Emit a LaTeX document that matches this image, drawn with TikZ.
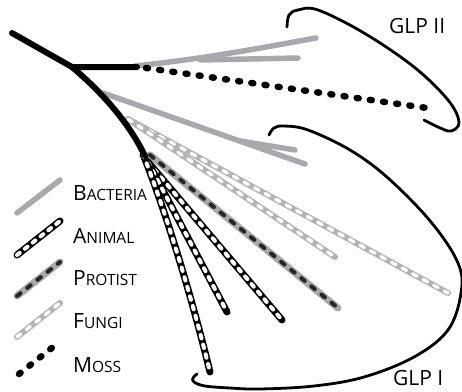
\documentclass[tikz,border=0pt]{standalone}
\usepackage{fontspec}
\setmainfont{Open Sans}
\usepackage{tikz}
\usetikzlibrary{calc}
\definecolor{bactGray}{HTML}{A7A9AC}
\definecolor{fungGray}{HTML}{B1B3B5}
\newcommand{\smcap}[2]{{\fontsize{21}{21}\selectfont #1}{\fontsize{15.5}{15.5}\selectfont #2}}

\begin{document}
\begin{tikzpicture}[x=1pt, y=-1pt, line cap=round, line join=round,
  trunk/.style={draw=black, line width=6pt},
  bacteria/.style={draw=bactGray, line width=5.5pt},
  animal/.style={draw=black, line width=7pt, postaction={draw=white, line width=4pt, dash pattern=on 3.5pt off 6.5pt}},
  protist/.style={draw=bactGray, line width=7pt, postaction={draw=black!85, line width=4pt, dash pattern=on 4.5pt off 8.5pt}},
  fungi/.style={draw=fungGray, line width=6pt, postaction={draw=white, line width=3.4pt, dash pattern=on 5pt off 7pt}},
  moss/.style={draw=black, line width=6.5pt, dash pattern=on 2pt off 11.3pt},
  glp/.style={draw=black, line width=2.8pt},
  legtext/.style={anchor=base west, inner sep=0pt}]
\useasboundingbox (0,0) rectangle (462,391);
% --- bacteria ---
\draw[bacteria] (135,66) .. controls (210,58) and (260,48) .. (316,38);
\draw[bacteria] (200,60) -- (298,58);
\draw[bacteria] (103,93) -- (305,164);
\draw[bacteria] (240,141) -- (295,150);
% --- fungi ---
\draw[fungi] (128,119) -- (448,293);
\draw[fungi] (128,119) -- (335,257);
% --- protist ---
\draw[protist] (150,155) -- (338,308);
% --- moss ---
\draw[moss] (146,68) -- (427,108);
% --- animal ---
\draw[animal] (148,162) -- (282,320);
\draw[animal] (148,162) -- (227,312);
\draw[animal] (143,154) .. controls (165,210) and (190,290) .. (210,372);
% --- trunk ---
\draw[trunk] (12,33) -- (72,67) -- (137,67);
\draw[trunk] (72,67) .. controls (105,95) and (130,125) .. (145,156);
% --- brackets ---
\draw[glp] plot[smooth, tension=0.6] coordinates {(287,27) (289,15) (298,10) (318,10) (364,33) (414,67) (448,100) (459,122) (451,131) (438,127) (424,120)};
\draw[glp] plot[smooth, tension=0.6] coordinates {(269,135) (274,128) (284,126) (308,130) (350,150) (388,178) (431,222) (458,263) (461,293) (448,330) (414,357) (364,377) (314,386) (260,389) (230,388) (205,386) (194,382) (193,378) (197,374)};
\node[legtext, font=\fontsize{21}{21}\selectfont] (glp2) at (389,33) {GLP II};
\node[legtext, font=\fontsize{21}{21}\selectfont] (glp1) at (393,385) {GLP I};
% --- legend ---
\draw[bacteria] (17,213) -- (60,180);
\node[legtext] (lbact) at (73,200) {\smcap{B}{ACTERIA}};
\draw[animal] (17,255) -- (60,221);
\node[legtext] (lanim) at (73,243) {\smcap{A}{NIMAL}};
\draw[protist] (17,296) -- (60,262);
\node[legtext] (lprot) at (73,285) {\smcap{P}{ROTIST}};
\draw[fungi] (17,337) -- (60,303);
\node[legtext] (lfung) at (73,328) {\smcap{F}{UNGI}};
\draw[moss] (19,374) -- (53,347);
\node[legtext] (lmoss) at (73,372) {\smcap{M}{OSS}};
\end{tikzpicture}
\end{document}
